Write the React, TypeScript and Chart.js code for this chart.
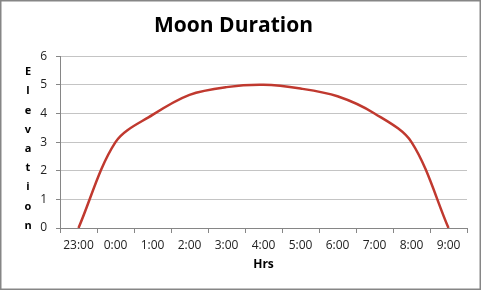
import React, { useEffect, useRef } from "react";
import { Chart, registerables } from "chart.js";

Chart.register(...registerables);

const hours = ["23:00", "0:00", "1:00", "2:00", "3:00", "4:00", "5:00", "6:00", "7:00", "8:00", "9:00"];
const elevation = [0, 3.0, 3.95, 4.65, 4.92, 5.0, 4.87, 4.6, 4.0, 3.0, 0];
const yTitleLetters = ["E", "l", "e", "v", "a", "t", "i", "o", "n"];
const chartTitle = "Moon Duration";
const xTitle = "Hrs";

const FONT = "'Open Sans', 'Liberation Sans', sans-serif";

const framePlugin = {
  id: "frame",
  beforeDraw(chart: any) {
    const { ctx, width, height } = chart;
    ctx.save();
    ctx.fillStyle = "#ffffff";
    ctx.fillRect(0, 0, width, height);
    ctx.restore();
  },
  afterDraw(chart: any) {
    const { ctx, width, height } = chart;
    ctx.save();
    ctx.strokeStyle = "#868686";
    ctx.lineWidth = 1.5;
    ctx.strokeRect(0.75, 0.75, width - 1.5, height - 1.5);
    // stacked y-axis title
    ctx.fillStyle = "#000000";
    ctx.font = "bold 11px " + FONT;
    ctx.textAlign = "center";
    ctx.textBaseline = "middle";
    const top = 72;
    const step = 19.2;
    yTitleLetters.forEach((ch, i) => {
      ctx.fillText(ch, 28, top + i * step);
    });
    ctx.restore();
  },
};

export default function App() {
  const ref = useRef<HTMLCanvasElement | null>(null);
  useEffect(() => {
    if (!ref.current) return;
    const chart = new Chart(ref.current, {
      type: "line",
      data: {
        labels: hours,
        datasets: [
          {
            data: elevation,
            borderColor: "#C0392F",
            borderWidth: 2.5,
            pointRadius: 0,
            tension: 0.33,
            fill: false,
          },
        ],
      },
      options: {
        animation: false,
        responsive: false,
        events: [],
        layout: { padding: { left: 0, right: 14, top: 0, bottom: 0 } },
        plugins: {
          legend: { display: false },
          tooltip: { enabled: false },
          title: {
            display: true,
            text: chartTitle,
            color: "#000000",
            font: { family: FONT, size: 21, weight: "bold", lineHeight: 1.2 },
            padding: { top: 13, bottom: 18 },
          },
        },
        scales: {
          x: {
            type: "category",
            offset: true,
            grid: {
              offset: true,
              drawOnChartArea: false,
              drawTicks: true,
              tickLength: 5,
              color: "#868686",
            },
            border: { display: true, color: "#868686", width: 1 },
            ticks: {
              color: "#222222",
              font: { family: FONT, size: 12 },
              padding: 5,
              maxRotation: 0,
              autoSkip: false,
            },
            title: {
              display: true,
              text: xTitle,
              color: "#000000",
              font: { family: FONT, size: 12, weight: "bold", lineHeight: 1.2 },
              padding: { top: 0, bottom: 18 },
            },
            afterFit(scale: any) {
              scale.height = 62;
            },
          },
          y: {
            min: 0,
            max: 6,
            ticks: {
              stepSize: 1,
              color: "#222222",
              font: { family: FONT, size: 12 },
              padding: 9,
            },
            grid: {
              color: "#c4c4c4",
              drawTicks: true,
              tickLength: 4,
              tickColor: "#868686",
            },
            border: { display: true, color: "#868686", width: 1 },
            afterFit(scale: any) {
              scale.width = 60;
            },
          },
        },
      },
      plugins: [framePlugin],
    });
    return () => chart.destroy();
  }, []);
  return (
    <div style={{ position: "fixed", left: 0, top: 0, width: 481, height: 290 }}>
      <canvas ref={ref} width={481} height={290} style={{ display: "block", width: 481, height: 290 }} />
    </div>
  );
}
